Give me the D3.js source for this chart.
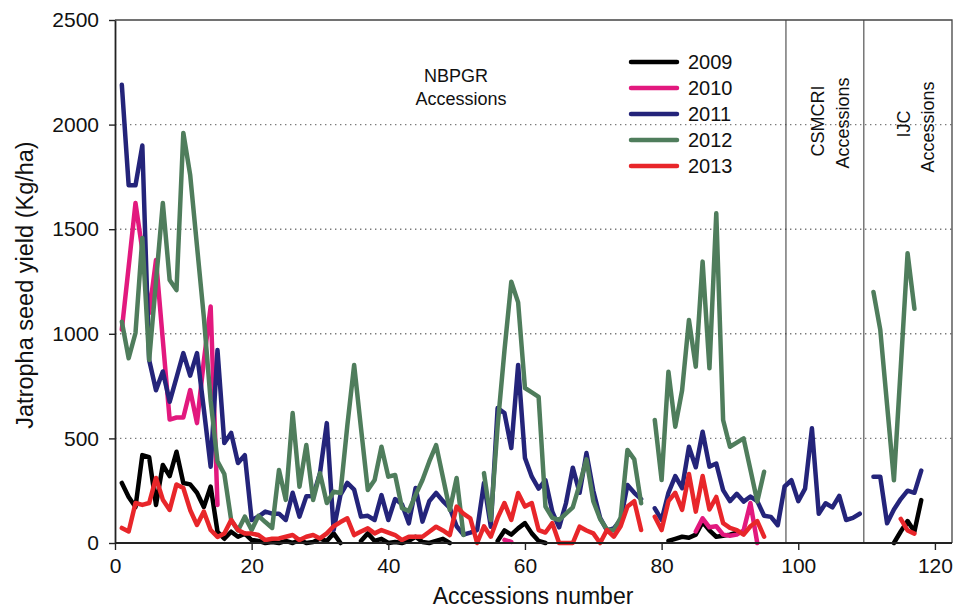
<!DOCTYPE html>
<html>
<head>
<meta charset="utf-8">
<script src="https://cdn.jsdelivr.net/npm/d3@7"></script>
<style>
  html, body { margin: 0; padding: 0; background: #fff; }
  svg text { font-family: "Liberation Sans", Arial, sans-serif; fill: #111; }
</style>
</head>
<body>
<svg id="chart" width="954" height="612"></svg>
<script>
// ---------- DATA ----------
const accessions = [1,2,3,4,5,6,7,8,9,10,11,12,13,14,15,16,17,18,19,20,
  21,22,23,24,25,26,27,28,29,30,31,32,33,34,35,36,37,38,39,40,
  41,42,43,44,45,46,47,48,49,50,51,52,53,54,55,56,57,58,59,60,
  61,62,63,64,65,66,67,68,69,70,71,72,73,74,75,76,77,78,79,80,
  81,82,83,84,85,86,87,88,89,90,91,92,93,94,95,96,97,98,99,100,
  101,102,103,104,105,106,107,108,109,110,111,112,113,114,115,116,117,118];

const years = ["2009", "2010", "2011", "2012", "2013"];

const y2009 = [287,220,172,420,410,182,373,320,436,287, 280,240,172,270,54,20,54,30,45,14,
  10,0,5,0,10,0,15,0,5,20, 10,46,0,null,null,10,46,10,20,0,
  5,0,10,30,5,0,10,20,0,null, null,null,null,null,null,10,60,40,70,95,
  46,10,0,null,null,null,null,null,null,null, null,null,null,null,null,null,null,null,null,null,
  10,20,30,25,40,100,60,30,35,40, 50,null,null,null,null,null,null,null,null,null,
  null,null,null,null,null,null,null,null,null,null, null,null,null,0,55,105,55,205];

const y2010 = [1020,1320,1625,1400,1099,1353,970,590,600,600, 731,573,870,1130,182,null,null,null,null,null,
  null,null,null,null,null,null,null,null,null,null, null,null,null,null,null,null,null,null,null,null,
  null,null,null,null,null,null,null,null,null,null, null,null,null,null,null,null,15,5,null,null,
  null,null,null,null,null,null,null,null,null,null, null,null,null,null,null,null,null,null,null,null,
  null,null,null,null,55,118,75,80,40,35, 40,60,191,0,null,null,null,null,null,null,
  null,null,null,null,null,null,null,null,null,null, null,null,null,null,null,null,null,null];

const y2011 = [2190,1710,1710,1900,875,730,820,675,790,908, 800,908,640,365,922,478,526,382,420,110,
  126,150,140,140,110,240,126,223,225,334, 573,62,230,287,255,126,130,110,229,110,
  210,185,94,263,102,200,239,200,168,80, 40,50,62,287,78,645,621,454,851,406,
  317,260,300,150,75,190,360,240,430,250, 120,60,70,110,277,240,210,null,166,110,
  240,320,262,460,362,532,365,380,253,200, 235,198,222,200,130,125,85,270,300,200,
  260,548,140,190,170,225,110,120,140,null, 317,317,94,160,210,250,240,346];

const y2012 = [1058,883,1004,1458,875,1250,1625,1257,1209,1960, 1760,1420,1080,680,390,330,110,60,126,62,
  130,100,72,349,206,621,269,468,206,334, 191,245,239,560,851,550,253,301,460,317,
  325,167,153,230,301,390,468,313,158,311, 38,null,null,334,110,560,920,1249,1150,741,
  720,699,174,120,110,140,170,280,400,200, 115,65,60,120,445,400,190,null,588,301,
  819,556,730,1066,843,1345,835,1576,588,460, 480,500,350,198,341,null,null,null,null,null,
  null,null,null,null,null,null,null,null,null,null, 1200,1020,660,300,840,1385,1120,null];

const y2013 = [72,55,191,182,191,311,207,158,280,263, 158,86,150,62,29,45,110,62,45,45,
  38,14,20,22,30,38,14,30,38,22, 46,80,100,118,38,55,70,46,62,50,
  38,14,30,30,30,54,78,60,38,174, 140,118,0,80,30,120,191,110,239,174,
  191,62,50,95,0,0,0,78,60,46, 0,62,30,80,174,200,62,null,126,62,
  200,240,158,330,150,320,160,220,95,72, 62,40,80,105,30,null,null,null,null,null,
  null,null,null,null,null,null,null,null,null,null, null,null,null,null,115,60,45,null];

const seriesValues = [y2009, y2010, y2011, y2012, y2013];
const seriesColors = ["#000000", "#e2197e", "#24247a", "#4f7d5c", "#e8262a"];

const xTicks = [0, 20, 40, 60, 80, 100, 120];
const yTicks = [0, 500, 1000, 1500, 2000, 2500];
const gridValues = [500, 1000, 1500, 2000];
const sectionDividers = [98.2, 109.6];

// ---------- LAYOUT ----------
const svg = d3.select("#chart");
const pLeft = 115, pRight = 952, pTop = 20, pBottom = 543;

const x = d3.scaleLinear().domain([0, 122.5]).range([pLeft, pRight]);
const y = d3.scaleLinear().domain([0, 2500]).range([pBottom, pTop]);

// gridlines
svg.append("g").selectAll("line").data(gridValues).join("line")
  .attr("x1", pLeft).attr("x2", pRight)
  .attr("y1", d => y(d)).attr("y2", d => y(d))
  .attr("stroke", "#7a7a7a").attr("stroke-width", 1.4)
  .attr("stroke-dasharray", "1.4,3.6");

// section dividers
svg.append("g").selectAll("line").data(sectionDividers).join("line")
  .attr("x1", d => x(d)).attr("x2", d => x(d))
  .attr("y1", pTop).attr("y2", pBottom)
  .attr("stroke", "#333").attr("stroke-width", 1);

// frame (top & right)
svg.append("path")
  .attr("d", `M${pLeft},${pTop}H${pRight}V${pBottom}`)
  .attr("fill", "none").attr("stroke", "#444").attr("stroke-width", 1.3);

// series lines
const line = d3.line()
  .defined(d => d.v != null)
  .x(d => x(d.a))
  .y(d => y(d.v));

seriesValues.forEach((vals, i) => {
  const pts = accessions.map((a, k) => ({ a: a, v: vals[k] }));
  svg.append("path")
    .datum(pts)
    .attr("d", line)
    .attr("fill", "none")
    .attr("stroke", seriesColors[i])
    .attr("stroke-width", 4.5)
    .attr("stroke-linejoin", "round")
    .attr("stroke-linecap", "round");
});

// axes
const xAxis = svg.append("g")
  .attr("transform", `translate(0,${pBottom})`)
  .call(d3.axisBottom(x).tickValues(xTicks).tickSize(7).tickPadding(8).tickSizeOuter(0));
const yAxis = svg.append("g")
  .attr("transform", `translate(${pLeft},0)`)
  .call(d3.axisLeft(y).tickValues(yTicks).tickFormat(d3.format("d"))
    .tickSize(6).tickPadding(10).tickSizeOuter(0));

[xAxis, yAxis].forEach(g => {
  g.select(".domain").attr("stroke", "#222").attr("stroke-width", 1.8);
  g.selectAll(".tick line").attr("stroke", "#222").attr("stroke-width", 1.4);
  g.selectAll(".tick text")
    .style("font-family", "'Liberation Sans', Arial, sans-serif")
    .style("font-size", "21px").attr("fill", "#111");
});
xAxis.select(".domain").attr("d", `M${pLeft},0H${pRight}`);

// axis titles
svg.append("text")
  .attr("x", 533).attr("y", 604)
  .attr("text-anchor", "middle")
  .style("font-size", "23px")
  .text("Accessions number");

svg.append("text")
  .attr("transform", `translate(33,285) rotate(-90)`)
  .attr("text-anchor", "middle")
  .style("font-size", "23.5px")
  .text("Jatropha seed yield (Kg/ha)");

// section labels
svg.append("text").attr("x", 456).attr("y", 82).attr("text-anchor", "middle")
  .style("font-size", "18px").text("NBPGR");
svg.append("text").attr("x", 461).attr("y", 105).attr("text-anchor", "middle")
  .style("font-size", "18px").text("Accessions");

const rot = (cx, cy, txt) => svg.append("text")
  .attr("transform", `translate(${cx},${cy}) rotate(-90)`)
  .attr("text-anchor", "middle")
  .style("font-size", "18px").text(txt);
rot(824, 121, "CSMCRI");
rot(849, 123, "Accessions");
rot(910, 124, "IJC");
rot(934, 127, "Accessions");

// legend
const legendY = [62, 88, 114, 140, 166];
const legend = svg.append("g");
years.forEach((yr, i) => {
  legend.append("line")
    .attr("x1", 631).attr("x2", 677)
    .attr("y1", legendY[i]).attr("y2", legendY[i])
    .attr("stroke", seriesColors[i]).attr("stroke-width", 4.5)
    .attr("stroke-linecap", "round");
  legend.append("text")
    .attr("x", 688).attr("y", legendY[i] + 7)
    .style("font-size", "20px")
    .text(yr);
});
</script>
</body>
</html>
